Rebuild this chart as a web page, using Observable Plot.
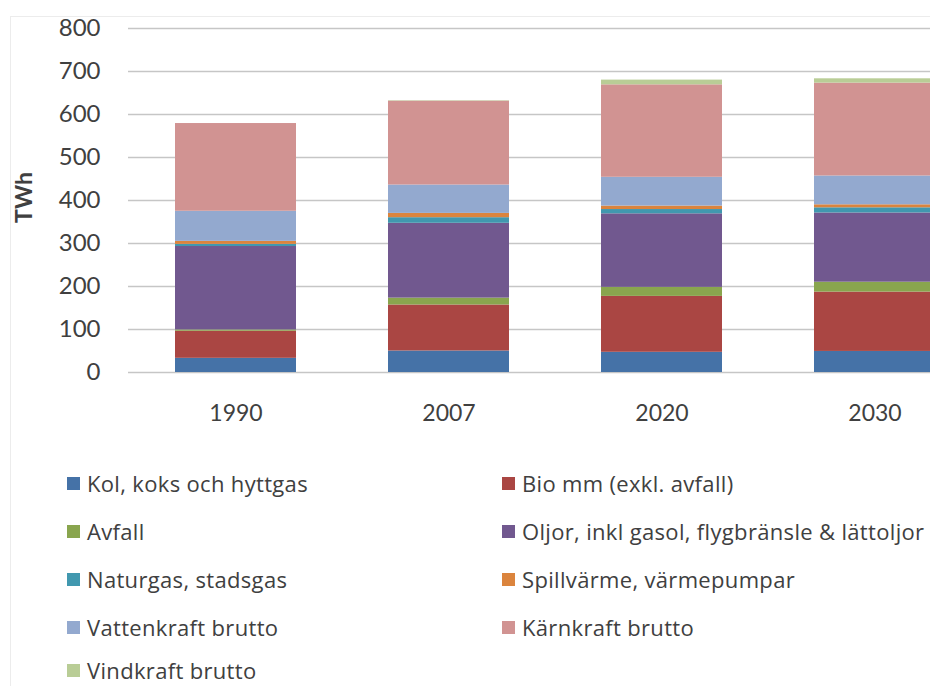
<!DOCTYPE html>
<html>
<head>
<meta charset="utf-8">
<script src="https://cdn.jsdelivr.net/npm/d3@7"></script>
<script src="https://cdn.jsdelivr.net/npm/@observablehq/plot@0.6"></script>
<style>
  html, body { margin: 0; padding: 0; background: #fff; }
  #wrap { position: relative; width: 930px; height: 686px; overflow: hidden; font-family: "Open Sans", Lato, sans-serif; }
  #frame { position: absolute; left: 10px; top: 16px; width: 940px; height: 700px; border: 1px solid #ececec; box-sizing: border-box; }
  #chart { position: absolute; left: 0; top: 0; width: 982px; }
  #chart svg { max-width: none !important; }
  #chart svg text { fill: #404040; }
  #legend { position: absolute; left: 67px; top: 459px; display: grid; grid-template-columns: 435px 420px; grid-auto-rows: 48px; }
  .item { position: relative; display: flex; align-items: center; font-size: 22px; line-height: 1; letter-spacing: 0.33px; color: #404040; white-space: nowrap; }
  .item.last { top: -5px; }
  .sw { width: 13px; height: 13px; margin-right: 7px; flex: none; }
</style>
</head>
<body>
<div id="wrap">
  <div id="frame"></div>
  <div id="chart"></div>
  <div id="legend"></div>
</div>
<script>
const years = ["1990", "2007", "2020", "2030"];
const seriesNames = [
  "Kol, koks och hyttgas",
  "Bio mm (exkl. avfall)",
  "Avfall",
  "Oljor, inkl gasol, flygbränsle & lättoljor",
  "Naturgas, stadsgas",
  "Spillvärme, värmepumpar",
  "Vattenkraft brutto",
  "Kärnkraft brutto",
  "Vindkraft brutto"
];
const seriesColors = ["#4572A7", "#AA4643", "#89A54E", "#71588F", "#4198AF", "#DB843D", "#93A9CF", "#D19392", "#B9CD96"];
const kol      = [33, 50, 47, 49];
const bio      = [63, 107, 130, 138];
const avfall   = [3, 16, 21, 23];
const oljor    = [194, 174, 171, 161];
const naturgas = [5, 13, 10, 12];
const spill    = [7, 10, 8, 7];
const vatten   = [70, 66, 67, 67];
const karn     = [204, 195, 215, 216];
const vind     = [0, 1, 11, 10];
const yTicks = [0, 100, 200, 300, 400, 500, 600, 700, 800];
const yLabel = "TWh";

const seriesValues = [kol, bio, avfall, oljor, naturgas, spill, vatten, karn, vind];
const data = [];
seriesNames.forEach((s, i) => years.forEach((y, j) => data.push({year: y, series: s, value: seriesValues[i][j]})));

const plot = Plot.plot({
  width: 982,
  height: 440,
  marginLeft: 128,
  marginRight: 0,
  marginTop: 28,
  marginBottom: 68,
  style: {fontFamily: "Lato, 'Open Sans', sans-serif", fontSize: "23px", color: "#404040", background: "transparent", maxWidth: "none"},
  x: {domain: years, paddingInner: 0.433, paddingOuter: 0.2165, label: null},
  y: {domain: [0, 800], label: null},
  color: {domain: seriesNames, range: seriesColors},
  marks: [
    Plot.gridY(yTicks, {stroke: "#c6c6c6", strokeOpacity: 1, strokeWidth: 1.3}),
    Plot.barY(data, {x: "year", y: "value", fill: "series", order: seriesNames}),
    Plot.axisY(yTicks, {tickSize: 0, tickPadding: 28, label: null, fontSize: 24, tickFormat: d => String(d)}),
    Plot.axisX({tickSize: 0, tickPadding: 32, label: null, fontSize: 23}),
    Plot.text([yLabel], {frameAnchor: "left", dx: -104, dy: -3, rotate: -90, textAnchor: "middle", text: d => d, fontWeight: "bold", fontSize: 23, fill: "#000"})
  ]
});
document.getElementById("chart").appendChild(plot);

const legend = document.getElementById("legend");
seriesNames.forEach((s, i) => {
  const it = document.createElement("div");
  it.className = "item" + (i === seriesNames.length - 1 ? " last" : "");
  const sw = document.createElement("span");
  sw.className = "sw";
  sw.style.background = seriesColors[i];
  it.appendChild(sw);
  it.appendChild(document.createTextNode(s));
  legend.appendChild(it);
});
</script>
</body>
</html>
